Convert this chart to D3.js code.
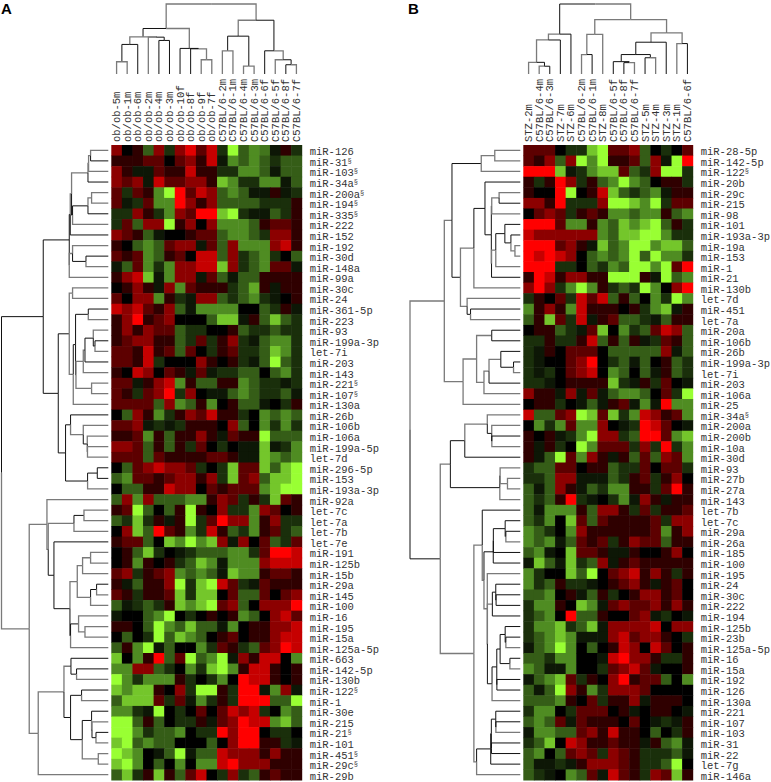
<!DOCTYPE html>
<html>
<head>
<meta charset="utf-8">
<script src="https://cdn.jsdelivr.net/npm/d3@7"></script>
<style>
body {margin: 0; background: #fff;}
text {font-family: "Liberation Mono", monospace; font-size: 10.5px; fill: #333;}
text.panel {font-family: "Liberation Sans", sans-serif; font-size: 15px; font-weight: 700; fill: #000;}
</style>
</head>
<body>
<div id="viz"></div>
<script>
// A = ob/ob vs C57BL/6, B = STZ vs C57BL/6
var colsA = ['ob/ob-5m','ob/ob-1m','ob/ob-6m','ob/ob-2m','ob/ob-4m','ob/ob-3m','ob/ob-10f','ob/ob-8f','ob/ob-9f','ob/ob-7f',
    'C57BL/6-2m','C57BL/6-1m','C57BL/6-4m','C57BL/6-3m','C57BL/6-6f','C57BL/6-5f','C57BL/6-8f','C57BL/6-7f'];
var colsB = ['STZ-2m','C57BL/6-4m','C57BL/6-3m','STZ-7m','STZ-6m','C57BL/6-2m','C57BL/6-1m','STZ-8m',
    'C57BL/6-5f','C57BL/6-8f','C57BL/6-7f','STZ-5m','STZ-4m','STZ-3m','STZ-1m','C57BL/6-6f'];

// § marks go in a superscript
var rowsA = ['miR-126','miR-31§','miR-103§','miR-34a§','miR-200a§','miR-194§','miR-335§','miR-222','miR-152','miR-192',
    'miR-30d','miR-148a','miR-99a','miR-30c','miR-24','miR-361-5p','miR-223','miR-93','miR-199a-3p','let-7i',
    'miR-203','miR-143','miR-221§','miR-107§','miR-130a','miR-26b','miR-106b','miR-106a','miR-199a-5p','let-7d',
    'miR-296-5p','miR-153','miR-193a-3p','miR-92a','let-7c','let-7a','let-7b','let-7e','miR-191','miR-125b',
    'miR-15b','miR-29a','miR-145','miR-100','miR-16','miR-195','miR-15a','miR-125a-5p','miR-663','miR-142-5p',
    'miR-130b','miR-122§','miR-1','miR-30e','miR-215','miR-21§','miR-101','miR-451§','miR-29c§','miR-29b'];
var rowsB = ['miR-28-5p','miR-142-5p','miR-122§','miR-20b','miR-29c','miR-215','miR-98','miR-101','miR-193a-3p','miR-19a',
    'miR-153','miR-1','miR-21','miR-130b','let-7d','miR-451','let-7a','miR-20a','miR-106b','miR-26b',
    'miR-199a-3p','let-7i','miR-203','miR-106a','miR-25','miR-34a§','miR-200a','miR-200b','miR-10a','miR-30d',
    'miR-93','miR-27b','miR-27a','miR-143','let-7b','let-7c','miR-29a','miR-26a','miR-185','miR-100',
    'miR-195','miR-24','miR-30c','miR-222','miR-194','miR-125b','miR-23b','miR-125a-5p','miR-16','miR-15a',
    'miR-192','miR-126','miR-130a','miR-221','miR-107','miR-103','miR-31','miR-22','let-7g','miR-146a'];

// expression, -5 (green) to 5 (red), read by eye
var valuesA = [
[3,0,1,-2,3,-1,3,4.5,2,4,-1,-5,-2,-3,-2.5,-.5,1,-1],
[1,1,1,2,2,0,2,3,1,4,-.5,-3,-2,-3,-2,-1,-2,-2],
[3,1,-.5,-.5,2,1,1,4,1,1,-1,-1,-3,-3,-2,-.5,-2,-2],
[3,2,3,-.5,4,2,2,3,3,1,-4,-3,-1,-1,-3,-3,-.5,-2],
[2,-1,2,1,-3,-5,5,2,4,3,-2,-3,-2,-.5,-.5,1,-.5,-1],
[2,-.5,-1,2,-3,-3,5,3,1,3,-2,-2,-2,-2,-1,-1,-1,1],
[-1,-1,3,1,-1,-3,3,2,5,5,-4,-5,-1,-.5,-.5,-2,-1,1],
[-1,2,-2,3,3,-5,1,3,0,3,-3,-3,-3,-2,1,2,2,1],
[3,2,1,-2,-.5,0,0,1,2,2,-2,-3,-3,-2,-1,3,3,1],
[1,0,-2,-3,-2,2,3,3,-.5,2,-2,3,-3,-3,-3,3,4,1],
[2,1,2,-3,-2,1,2,0,4,4,-2,3,-1,-2,-3,-1,0,-2],
[-.5,-2,2,-3,-1,-3,3,3,4,4,-4,3,-1,-2,-3,2,2,-.5],
[1,3,4,-4,-.5,-3,3,3,-.5,2,-2,-.5,-2,-2,1,1,1,1],
[0,1,3,1,-.5,3,-3,2,1,1,1,-1,-2,-3.5,1,-.5,1,1],
[2,0,3,3,-3,1,-1,-.5,3,3,-2,-1,-2,-3,-1,-.5,0,1],
[4,3,4,2,1,3,-2,-.5,-3,-3,-3,-3,0,0,-2,-1,1,-.5],
[1,3,5,1,2,3,0,0,0,-2,-4,-4,-.5,1,-2,-4,-2,-1],
[1,3,1,3,2,2,-2,-1,-1,0,0,1,-2,-1,-1,-2,-1,-1],
[1,2,3,3,1,1,-2,-1,2,-1,1,3,-1,-.5,-2,-3,-3,-1],
[2,2,1,4,1,2,-2,2,0,-1,1,2,-1,-1,-2,-4,-3,-1],
[2,2,1,4,-1,0,0,0,3,1,0,1,-1,-.5,-2,-5,-2,-1],
[1,0,4,3,0,2,1,-.5,2,-.5,-1,-1,-2,-2,0,-2,-3,-1],
[2,2,-.5,1,3,4,-3,1,-2,-2,1,1,-3,-2,-1,-1,-.5,-1],
[2,1,-1,2,3,5,-1,3,0,-.5,-.5,-2,-3,-2,-1,-1,-2,-.5],
[2,2,2,2,-2,3,-3,-2,1,-3,0,1,-2,-2,-.5,0,-1,1],
[0,-2,3,1,-3,-1,1,3,2,4,1,1,-1,0,-3,-2,-3,-2],
[2,2,3,-.5,-1,-.5,-1,1,1,1,0,3,-2,0,-3,-1,-3,-1],
[1,1,2,-3,1,-2,1,1,3,1,-.5,2,1,1,-5,-2,-2,-2],
[3,3,2,-2,1,-2,1,-1,2,0,-1,0,-.5,-.5,-4,-.5,-1,-3],
[2,2,2,-2,2,1,1,1,1,2,2,1,-.5,-.5,-4,-3,-2,-3],
[0,-2,2,3,4,3,3,2,-1,0,-1,-4,2,2,-4,-2,-4,-5],
[-2,-3,2,2,1,2,3,3,1,3,-1,-4,2,3,-2,-4,-4,-5],
[0,-2,-2,1,1,4,3,3,0,2,1,2,2,2,-3,-4,-5,-5],
[-2,3,-3,3,-2,-2,-2,-3,-3,1,3,2,-1,1,-1,-4,2,1],
[1,2,-5,-2,0,-2,1,-5,1,0,3,-1,-1,-3,3,2,0,1],
[-2,-1,-4,-1,1,-.5,1,-5,-1,2,5,3,3,-3,1,3,-1,-1],
[0,3,-4,-2,5,2,1,-3,-1,4,1,-2,-1,-3,1,2,-1,-2],
[1,2,2,-2,0,-4,-3,-5,-3,-4,3,-.5,3,0,2,-2,-1,2],
[0,1,-2,-4,-1,0,-.5,-1,-2,-2,-2,-3,-3,-1,2,5,5,4],
[0,1,-3,1,0,1,-1,-2,-4,-3,-.5,-3,-3,-3,3,4,4,4],
[2,3,-1,1,2,3,-3,-2,-3,-2,-.5,-4,-3,-3,1,2,2,1],
[1,-.5,-2,1,1,3,-5,-1,-4,-5,4,2,-1,-.5,2,1,1,1],
[2,1,-1,1,1,2,-4,-1,-4,-4,0,2,-2,-2,2,0,2,3],
[-2,-.5,-1,-2,-1,1,-4,-3,-4,-5,2,3,-2,0,3,3,3,5],
[-.5,0,0,-2,-3,-5,0,-1,0,1,0,1,-3,-2,0,3,4,2],
[1,1,0,-2,-5,-3,-2,-4,-2,-2,-.5,-3,0,1,1,3,3,4],
[0,-2,0,-1,-5,-2,-4,-3,-2,0,1,2,0,1,1,3,4,4],
[-2,1,-3,-5,-.5,-2,0,0,-3,-1,2,1,-1,-2,2,3,5,4],
[-4,0,-3,1,5,-2,2,-5,-2,-3,-5,-.5,3,1,4,4,0,-3],
[-3,-3,3,3,-2,-1,0,-3,-1,-4,-5,-3,1,4,4,1,0,1],
[-5,-3,-1,-3,-3,-3,1,-1,0,-1,-3,0,5,4,4,1,0,1],
[-4,-3,-4,-4,1,0,3,-1,-5,-5,1,-1,5,5,-.5,-3,3,-.5],
[-2,-4,-4,-4,2,-1,2,-.5,-3,-1,1,-1,5,5,5,-2,-2,-5],
[-3,-3,-1,-.5,-5,0,-1,0,2,0,2,4,3,4,-1,0,-3,-2],
[-5,-5,-2,1,-2,0,-1,-1,1,-.5,2,3,5,4,4,-3,-4,-2],
[-5,-5,-3,-1,-2,-2,-3,0,-1,-1,5,3,5,5,0,-1,-1,0],
[-4,-5,-2,-3,-2,-2,0,0,0,-2,0,3,5,5,1,1,-1,-.5],
[-5,-4,-3,0,-.5,-2,-5,-.5,-2,-2,4,3,3,3,1,3,1,1],
[-4,-5,-3,0,-2,0,-3,0,-3,-3,4,5,3,3,3,1,1,1],
[-2,-4,-1,1,-4,1,-2,2,4,0,-1,3,-1,-2,1,2,1,1]
];
var valuesB = [
[2,2,2,0,-1,-1,-4,-5,2,2,3,-2,0,-1,0,2],
[2,1,3,-2,3,-5,-3,-5,1,1,2,-2,3,-.5,-5,5],
[5,5,5,-4,-.5,-1,-3,-4,-4,2,-2,-1,3,-5,-5,-1],
[1,-1,1,5,3,-1,1,-2,-3,-5,-3,-2,0,1,1,-1],
[1,0,0,5,-5,0,1,4,-4,-2,-1,-2,-3,-.5,1,1],
[3,3,1,5,-1,-1,-1,3,-5,-5,-4,-3,-5,-1,2,2],
[0,2,3,2,-1,1,2,1,-3,-3,-2,-3,-3,1,-2,-3],
[5,5,5,2,-3,-3,1,-3,-2,-4,-3,-4,-5,-2,1,-1],
[4,3,3,3,3,3,3,-3,-2,-4,-4,-5,-5,-3,-1,-1],
[5,5,5,2,3,1,-.5,-4,-2,-3,-5,-5,-3,-4,-4,-2],
[5,4,5,4,3,0,-2,-3,-2,-3,-5,-2,-5,-3,-3,-1],
[5,5,5,-1,-1,0,-2,-1,-3,-2,-5,-5,-3,-5,2,5],
[1,5,4,1,3,3,1,1,-5,-5,-5,1,-.5,-5,-2,-3],
[3,5,3,-1,-3,-5,-3,1,-1,-2,-1,-5,-3,0,3,5],
[-1,1,0,2,-1,4,2,4,-2,1,-2,0,-3,-1,-5,-3],
[-3,1,3,1,-3,4,1,1,1,0,1,-1,-3,-4,-.5,1],
[-2,1,-4,2,-1,4,-.5,1,2,-2,-2,-1,-.5,-2,1,1],
[0,1,1,-2,-1,-.5,2,-4,0,-3,-1,-2,2,4,3,-2],
[-1,-1,1,-1,-1,1,4,-2,1,-2,1,-.5,-1,2,1,-2],
[-1,-.5,1,0,2,2,2,0,-2,-2,-2,-2,-2,3,-.5,-2],
[-1,-.5,0,0,2,3,5,0,-1,-2,-.5,-2,0,1,-2,-1],
[-1,-.5,-1,0,2,3,4,0,-3,-2,0,-2,-.5,1,-2,-1],
[-1,-1,-.5,0,1,1,1,1,-4,-1,-.5,1,-1,2,0,-.5],
[3,1,1,-.5,3,-.5,2,-.5,-2,-3,-3,-2,0,2,-1,-5],
[0,1,1,-1,0,-.5,-2,-.5,1,2,-.5,-3,-.5,5,-3,-3],
[4,-2,-2,2,3,-5,-4,2,-4,-1,-3,4,3,1,2,-3],
[0,-3,-1,-3,2,-3,-3,3,0,-.5,-1,5,4,2,0,-.5],
[1,0,1,-.5,-1,-3,-5,3,3,-1,-2,5,5,2,-3,-4],
[1,-.5,1,-1,0,-5,-3,2,2,2,-1,3,-1,5,-1,-3],
[1,-.5,-2,-5,2,-3,3,1,-.5,1,-2,2,-2,3,2,-3],
[-1,-2,-2,2,2,0,1,1,-2,-1,-1,2,0,2,2,-1],
[-1,-1,-2,3,3,-.5,-.5,-.5,-2,-1,1,2,-1,1,3,0],
[-2,-.5,-2,3,1,-.5,-2,-1,-3,-3,1,1,-1,2,5,1],
[-2,-1,-2,1,5,-1,-.5,0,-1,-3,-.5,3,1,-.5,1,1],
[-2,-.5,-3,-3,-3,1,-2,3,3,1,-1,2,-1,1,1,2],
[-2,-1,-3,0,-4,2,-2,2,1,1,1,1,2,-1,3,3],
[-3,-2,-1,0,-3,3,1,1,1,1,1,1,2,-3,1,3],
[-3,-2,-3,-.5,-2,2,1,2,-1,1,3,2,2,-2,1,1],
[-2,-3,-.5,0,-4,2,2,1,-.5,-.5,1,0,0,1,3,0],
[-.5,-4,-2,-.5,-4,-1,-2,3,-.5,1,2,1,1,1,1,1],
[-3,-1,0,0,-4,-2,-5,0,2,3,4,1,3,1,-1,1],
[-3,-1,-2,1,-1,-1,-.5,0,1,2,3,1,-.5,1,2,0],
[-2,-2,-3,0,1,-.5,-2,1,-1,0,1,3,3,1,2,0],
[-1,-3,-3,1,0,-4,-3,-.5,2,3,2,2,3,1,3,1],
[-1,-2,-3,0,5,-2,-2,1,0,0,2,3,-.5,-1,0,-.5],
[-1,-3,-3,-4,-1,-2,-4,-.5,3,3,3,3,4,0,3,3],
[-1,-2,-3,-4,-3,-.5,-.5,-.5,3,4,2,3,3,1,0,-1],
[-.5,-2,-3,-5,-3,0,-2,0,1,4,3,0,4,2,0,1],
[-2,-2,-1,-3,-3,0,0,-.5,4,5,3,3,1,-1,-1,1],
[-3,-2,-.5,-.5,-3,0,0,-1,2,3,4,2,-.5,0,0,1],
[-.5,-2,-3,-4,2,-1,1,0,3,5,1,2,2,-2,0,-3],
[-2,-.5,-2,-5,3,1,-3,-1,3,3,3,2,0,0,0,0],
[-2,-2,-2,-3,1,0,2,-1,1,1,3,-.5,1,1,1,0],
[-1,-3,-3,0,-1,2,2,2,0,1,-.5,0,1,1,0,-.5],
[-2,-3,-2,2,-.5,2,1,1,1,0,2,0,-.5,-1,-.5,1],
[-.5,-3,-3,-2,-2,2,3,1,4,1,1,0,-2,0,-1,1],
[-1,-2,-4,0,4,3,1,1,2,1,1,-.5,1,-2,-3,-.5],
[-2,-3,0,-2,2,3,2,-1,3,2,1,-1,-1,-1,-2,-.5],
[-2,-.5,-.5,-1,-.5,1,3,3,3,2,1,-1,-1,-2,-5,0],
[-2,-1,-.5,0,-3,-2,2,-.5,4,2,1,-1,3,2,-4,1]
];

// dendrograms: node = [distance, gray?, left, right], a leaf is only its gray? flag
var colTreeA = [70.3,0,
    [45.7,1,
        [37.3,0,
            [29.7,1,[12.3,0,1,1],0],
            [37,1,1,[33.7,0,0,0]]],
        [25.7,1,0,[25.3,0,0,[14.3,1,1,1]]]],
    [54,1,
        [38,1,[23.3,0,1,1],[8,0,1,1]],
        [23.3,0,0,[14.3,1,1,[9.3,0,0,1]]]]];
var colTreeB = [72,0,
    [41,0,
        [35,1,[12,1,1,[8,0,1,0]],0],
        0],
    [56,1,
        [40.7,1,[20,1,1,0],1],
        [42.3,1,
            [32.7,1,
                [20,0,[12.7,0,0,[11.7,0,0,1]],[16.7,0,0,1]],
                0],
            [31.3,1,1,0]]]];

var rowTreeA = [106.7,0,
    [65,0,
        [39,0,
            [38,0,
                [36.7,1,
                    [20.3,1,[19.7,1,[17.7,1,1,0],1],0],
                    [35.7,0,[20.3,0,[16.7,1,1,1],0],1]],
                0],
            [39,0,[35.7,1,1,[22.3,0,0,1]],1]],
        [50,0,
            [39,0,
                [35.7,1,1,1],
                [35,1,
                    [32.7,0,
                        [20,0,0,1],
                        [32.3,0,
                            [25,1,[23.3,1,[15,0,1,[13.3,0,0,1]],0],1],
                            [16.7,1,1,1]]],
                    1]],
            [42.7,0,
                [37.7,0,0,[25,1,1,[21,0,1,[20.8,0,1,1]]]],
                [20.7,0,[11,0,0,0],1]]]],
    [79,1,
        [61.3,1,
            1,
            [60,1,
                [34.3,1,[24.3,0,1,1],1],
                [54.3,0,
                    0,
                    [38.3,0,
                        [31,1,
                            [25.7,1,[17.7,1,1,1],1],
                            [17.7,1,[11.7,0,0,1],1]],
                        [37.7,0,[29.7,0,1,[23.3,1,1,1]],1]]]]],
        [70,1,
            [44.3,1,
                [37.3,1,0,[31.7,0,0,1]],
                [37.7,0,
                    [26.7,0,0,1],
                    [26,0,
                        [16.7,0,0,[16.3,1,1,[12.3,0,0,1]]],
                        [10,1,1,1]]]],
            1]]];

var rowTreeB = [109.3,0,
    [75.3,1,
        [67.7,1,
            [38.7,0,[25.3,1,1,1],1],
            [59.3,0,
                [46,1,
                    [35,0,
                        0,
                        [28.7,0,
                            [28.3,0,[21,1,1,0],1],
                            [28.5,0,
                                [24.3,1,[15.3,0,0,[9.3,0,0,[5.3,1,1,1]]],1],
                                0]]],
                    1],
                [52.7,1,1,[49.3,0,0,1]]]],
        [56.7,1,
            [43.3,1,
                [28.3,1,0,0],
                [36,1,[31,1,[19.3,1,0,[6.7,0,0,1]],0],1]],
            1]],
    [79.3,0,
        [69.3,1,
            [55,0,[32.7,1,1,[28.3,0,1,[28.2,0,0,1]]],0],
            [20.3,0,[20,0,1,[12.7,1,1,1]],1]],
        [46,1,
            [37.7,1,
                0,
                [36,1,
                    [26.8,0,[26.7,0,[15,0,0,[14.3,0,0,1]],0],0],
                    [32.7,1,
                        1,
                        [32.6,1,
                            [27.7,1,[24.3,0,0,[24,0,0,0]],0],
                            [28,0,
                                [23.3,0,[20,0,[15,0,0,[14.3,0,0,1]],[10.3,0,0,1]],[23.2,0,0,0]],
                                1]]]]],
            [43.3,1,
                [29.3,0,[28.7,0,[24.3,0,0,[24.2,0,0,1]],[28.6,0,0,0]],0],
                1]]]];

var color = d3.scaleLinear().domain([-5,-3,0,3,5]).range(['#99ff33','#4f8c22','#000000','#8c0000','#ff0000']);

var svg = d3.select('#viz').append('svg').attr('width', 771).attr('height', 782);

function drawPanel(name, nameX, cols, rows, values, colTree, rowTree, left, right, treeLeft) {
    var top = 145, bottom = 780;

    var x = d3.scaleBand().domain(cols).range([left, right]);
    var y = d3.scaleBand().domain(rows).range([top, bottom]);

    svg.append('text').attr('class', 'panel').attr('x', nameX).attr('y', 13.5).text(name);

    // heatmap
    var g = svg.append('g');
    values.forEach(function(row, i) {
        g.selectAll(null)
        .data(row)
        .enter()
        .append('rect')
        .attr('x', function(d, j) {return x(cols[j]);})
        .attr('y', y(rows[i]))
        .attr('width', x.bandwidth() + 0.5)
        .attr('height', y.bandwidth() + 0.5)
        .attr('fill', function(d) {return color(d);});
    });

    // row labels
    svg.selectAll(null)
    .data(rows)
    .enter()
    .append('text')
    .attr('x', right + 8)
    .attr('y', function(d) {return y(d) + y.bandwidth() / 2 + 5;})
    .each(function(d) {
        var t = d3.select(this);
        t.append('tspan').text(d.replace('§', ''));
        if (d.indexOf('§') >= 0) t.append('tspan').text('§').attr('dy', -3).style('font-size', '7px');
    });

    // column labels
    svg.selectAll(null)
    .data(cols)
    .enter()
    .append('text')
    .text(function(d) {return d;})
    .attr('transform', function(d) {return 'translate(' + (x(d) + x.bandwidth() / 2 + 3.5) + ',' + (top - 3) + ') rotate(-90)';});

    // top tree
    var colDist = d3.scaleLinear().domain([0, colTree[0]]).range([74, 4]);
    drawTree(colTree, cols.map(function(d) {return x(d) + x.bandwidth() / 2;}), function(n) {return colDist(n);}, true);

    // left tree
    var rowDist = d3.scaleLinear().domain([0, rowTree[0]]).range([left - 3, treeLeft]);
    drawTree(rowTree, rows.map(function(d) {return y(d) + y.bandwidth() / 2;}), function(n) {return rowDist(n);}, false);
}

function drawTree(tree, leafPos, dist, vertical) {
    var root = d3.hierarchy(tree, function(d) {return Array.isArray(d) ? d.slice(2) : null;});

    root.leaves().forEach(function(n, i) {n.pos = leafPos[i];});
    root.eachAfter(function(n) {
        if (n.children) n.pos = (n.children[0].pos + n.children[1].pos) / 2;
        n.h = n.children ? dist(n.data[0]) : dist(0);
        n.gray = n.children ? n.data[1] : n.data;
    });

    // one elbow for each link, parent bar then stem down to the child
    svg.append('g')
    .selectAll('path')
    .data(root.links())
    .enter()
    .append('path')
    .attr('fill', 'none')
    .attr('stroke', function(d) {return d.target.gray ? '#7a7a7a' : '#111';})
    .attr('stroke-width', function(d) {return d.target.gray ? 1.3 : 1;})
    .attr('d', function(d) {
        var s = d.source, t = d.target;
        if (vertical) return 'M' + s.pos + ',' + s.h + 'H' + t.pos + 'V' + t.h;
        return 'M' + s.h + ',' + s.pos + 'V' + t.pos + 'H' + t.h;
    });
}

drawPanel('A', 1, colsA, rowsA, valuesA, colTreeA, rowTreeA, 111.3, 301.7, 1.5);
drawPanel('B', 408, colsB, rowsB, valuesB, colTreeB, rowTreeB, 523.3, 692.7, 410);
</script>
</body>
</html>
